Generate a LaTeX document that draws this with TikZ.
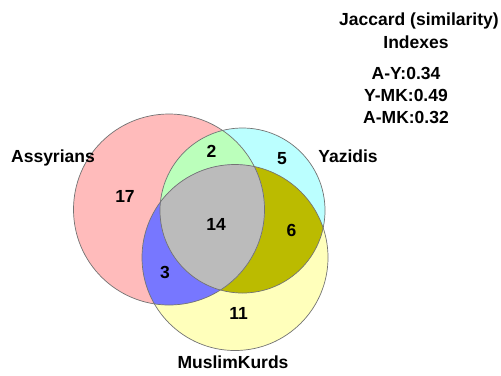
\documentclass[tikz,border=0pt]{standalone}
\usepackage{fontspec}
\setmainfont{Liberation Sans}

\definecolor{assyr}{RGB}{255,187,187}
\definecolor{yazid}{RGB}{187,255,255}
\definecolor{kurds}{RGB}{255,255,187}
\definecolor{assyrYazid}{RGB}{187,255,187}
\definecolor{assyrKurds}{RGB}{119,119,255}
\definecolor{yazidKurds}{RGB}{187,187,0}
\definecolor{allThree}{RGB}{187,187,187}

\begin{document}
\begin{tikzpicture}[
    x=1bp, y=-1bp,
    setlabel/.style={
        font=\fontsize{17.5bp}{20bp}\selectfont\bfseries,
        anchor=base,
        inner sep=0pt
    },
    count/.style={
        font=\fontsize{17.5bp}{20bp}\selectfont\bfseries,
        anchor=base,
        inner sep=0pt
    },
    rim/.style={
        draw=black!55,
        line width=0.7bp
    }
]
\useasboundingbox (0,0) rectangle (501,375);

\coordinate (cA) at (169,209.5);
\coordinate (cY) at (242.5,210.5);
\coordinate (cM) at (235,257.5);

% Sets
\fill[assyr] (cA) circle[radius=95.5bp];
\fill[yazid] (cY) circle[radius=82.5bp];
\fill[kurds] (cM) circle[radius=93bp];

% Overlaps
\begin{scope}
    \clip (cY) circle[radius=82.5bp];
    \fill[yazidKurds] (cM) circle[radius=93bp];
\end{scope}
\begin{scope}
    \clip (cA) circle[radius=95.5bp];
    \fill[assyrYazid] (cY) circle[radius=82.5bp];
    \fill[assyrKurds] (cM) circle[radius=93bp];
    \clip (cY) circle[radius=82.5bp];
    \fill[allThree] (cM) circle[radius=93bp];
\end{scope}

\draw[rim] (cA) circle[radius=95.5bp];
\draw[rim] (cY) circle[radius=82.5bp];
\draw[rim] (cM) circle[radius=93bp];

% Set names
\node[setlabel] (assyrians) at (53,162.5) {Assyrians};
\node[setlabel] (yazidis) at (348,162) {Yazidis};
\node[setlabel] (kurds) at (233,368) {MuslimKurds};

% Counts
\node[count] (nA) at (125,202.5) {17};
\node[count] (nAY) at (211.5,157.5) {2};
\node[count] (nY) at (282,164) {5};
\node[count] (nAYM) at (216,230.5) {14};
\node[count] (nYM) at (291.5,236.5) {6};
\node[count] (nAM) at (165,278) {3};
\node[count] (nM) at (238.5,319) {11};

% Jaccard indexes
\node[setlabel] (title1) at (419,25) {Jaccard (similarity)};
\node[setlabel] (title2) at (416,48) {Indexes};
\node[setlabel] (jAY) at (406,79.5) {A-Y:0.34};
\node[setlabel] (jYM) at (406,101.5) {Y-MK:0.49};
\node[setlabel] (jAM) at (406,123.5) {A-MK:0.32};

\end{tikzpicture}
\end{document}
